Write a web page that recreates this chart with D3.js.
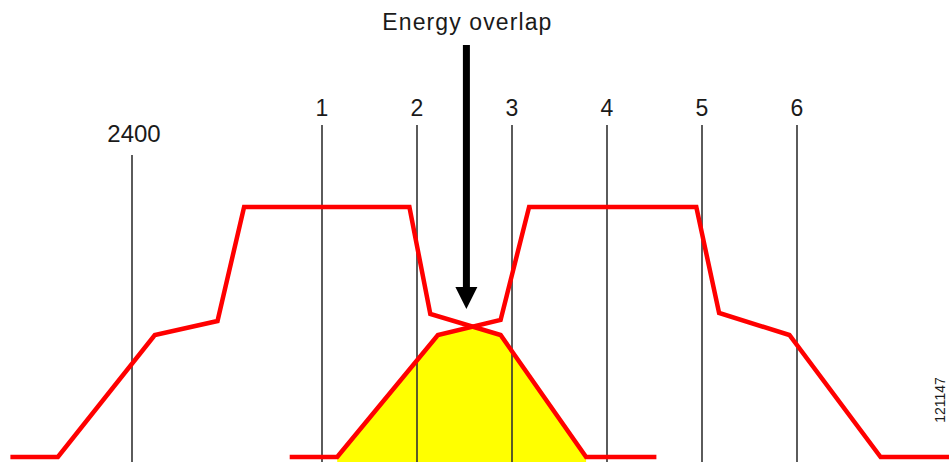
<!DOCTYPE html>
<html>
<head>
<meta charset="utf-8">
<script src="https://cdn.jsdelivr.net/npm/d3@7"></script>
<style>
  html, body { margin: 0; padding: 0; background: #fff; }
  svg { display: block; }
  text { font-family: "Liberation Sans", Arial, sans-serif; fill: #1a1a1a; }
</style>
</head>
<body>
<svg id="chart" width="949" height="462"></svg>
<script>
// ---- Data (frequencies in MHz, levels in dBr; drawing is schematic) ----
const channelLabels = ["1", "2", "3", "4", "5", "6"];
const channelFreqs  = [2412, 2417, 2422, 2427, 2432, 2437];
const bandStartLabel = "2400";
const bandStartFreq  = 2402;

// Spectral mask of the lower channel (channel 1)
const maskAFreqs  = [2395.6, 2398.1, 2403.2, 2406.5, 2407.9, 2416.6, 2417.7, 2421.4, 2425.9, 2429.6];
const maskALevels = [-50, -50, -25.6, -22.8, 0, 0, -21.4, -25.6, -50, -50];

// Spectral mask of the upper channel (channel 4)
const maskBFreqs  = [2410.3, 2412.8, 2418.1, 2421.4, 2422.9, 2431.7, 2432.9, 2436.6, 2441.4, 2446];
const maskBLevels = [-50, -50, -25.6, -22.6, 0, 0, -21.2, -25.6, -50, -50];

const annotationText = "Energy overlap";
const annotationFreq = 2419.6;
const figureId = "121147";

// ---- Layout ----
const W = 949, H = 462;
const svg = d3.select("#chart");

const x = d3.scaleLinear().domain([2412, 2437]).range([322, 797]);
const y = d3.scaleLinear().domain([-50, 0]).range([457, 207]);

const floorLevel = -50;

// piecewise-linear mask functions
const maskA = d3.scaleLinear().domain(maskAFreqs).range(maskALevels).clamp(true);
const maskB = d3.scaleLinear().domain(maskBFreqs).range(maskBLevels).clamp(true);

// ---- Overlap region (min of both masks) ----
const lo = Math.max(maskAFreqs[0], maskBFreqs[0]);
const hi = Math.min(maskAFreqs[maskAFreqs.length - 1], maskBFreqs[maskBFreqs.length - 1]);
let bp = Array.from(new Set(maskAFreqs.concat(maskBFreqs).filter(f => f >= lo && f <= hi).concat([lo, hi]))).sort((a, b) => a - b);
let fs = [];
for (let i = 0; i < bp.length; i++) {
  fs.push(bp[i]);
  if (i < bp.length - 1) {
    const a = bp[i], b = bp[i + 1];
    const da = maskA(a) - maskB(a), db = maskA(b) - maskB(b);
    if (da * db < 0) {
      const t = da / (da - db);
      fs.push(a + t * (b - a));
    }
  }
}
let pts = fs.map(f => ({ f, v: Math.min(maskA(f), maskB(f)) }));
let keep = pts.filter((p, i) =>
  p.v > floorLevel + 1e-9 ||
  (i > 0 && pts[i - 1].v > floorLevel + 1e-9) ||
  (i < pts.length - 1 && pts[i + 1].v > floorLevel + 1e-9));

const area = d3.area()
  .x(d => x(d.f))
  .y0(H + 2)
  .y1(d => y(d.v));

svg.append("path")
  .datum(keep)
  .attr("d", area)
  .attr("fill", "#ffff00");

// ---- Channel lines ----
const gLines = svg.append("g");
gLines.selectAll("line.ch")
  .data(channelFreqs)
  .join("line")
  .attr("class", "ch")
  .attr("x1", d => x(d)).attr("x2", d => x(d))
  .attr("y1", 125).attr("y2", H)
  .attr("stroke", "#333").attr("stroke-width", 1.6);

gLines.append("line")
  .attr("x1", x(bandStartFreq)).attr("x2", x(bandStartFreq))
  .attr("y1", 155).attr("y2", H)
  .attr("stroke", "#333").attr("stroke-width", 1.6);

// ---- Masks ----
const line = d3.line().x(d => x(d[0])).y(d => y(d[1]));
[[maskAFreqs, maskALevels], [maskBFreqs, maskBLevels]].forEach(([fq, lv]) => {
  svg.append("path")
    .datum(fq.map((f, i) => [f, lv[i]]))
    .attr("d", line)
    .attr("fill", "none")
    .attr("stroke", "#ff0000")
    .attr("stroke-width", 4.5)
    .attr("stroke-linejoin", "miter");
});

// ---- Labels ----
svg.selectAll("text.ch")
  .data(channelLabels)
  .join("text")
  .attr("class", "ch")
  .attr("x", (d, i) => x(channelFreqs[i]))
  .attr("y", 116)
  .attr("text-anchor", "middle")
  .attr("font-size", 23)
  .text(d => d);

svg.append("text")
  .attr("x", x(bandStartFreq) + 2)
  .attr("y", 142)
  .attr("text-anchor", "middle")
  .attr("font-size", 24)
  .text(bandStartLabel);

// ---- Annotation arrow ----
const ax = x(annotationFreq);
svg.append("rect")
  .attr("x", ax - 3.5).attr("y", 45)
  .attr("width", 7).attr("height", 245)
  .attr("fill", "#000");
svg.append("path")
  .attr("d", d3.line()([[ax - 11, 287], [ax + 11, 287], [ax, 309]]) + "Z")
  .attr("fill", "#000");

svg.append("text")
  .attr("x", ax + 1)
  .attr("y", 30)
  .attr("text-anchor", "middle")
  .attr("font-size", 23)
  .attr("letter-spacing", 1.1)
  .text(annotationText);

// ---- Figure id ----
svg.append("text")
  .attr("transform", `translate(945,400) rotate(-90)`)
  .attr("text-anchor", "middle")
  .attr("font-size", 14)
  .text(figureId);
</script>
</body>
</html>
